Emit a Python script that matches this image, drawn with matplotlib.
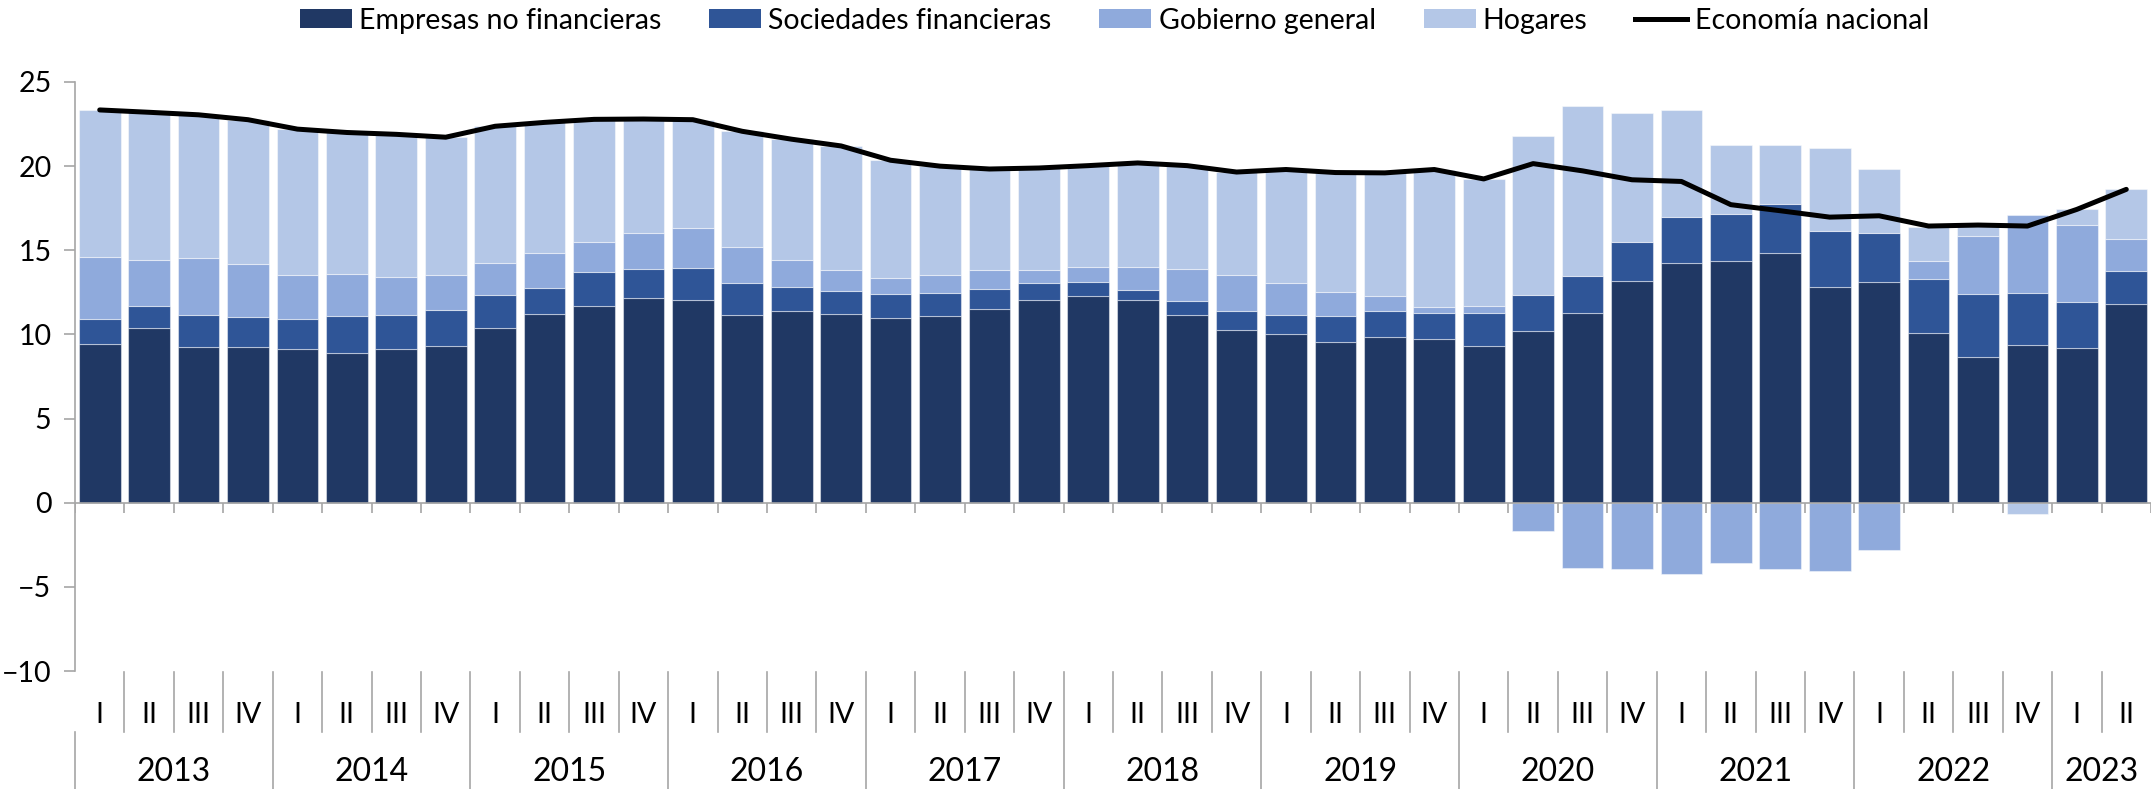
import numpy as np
import matplotlib.pyplot as plt
from matplotlib.patches import Patch
from matplotlib.lines import Line2D
from matplotlib.transforms import blended_transform_factory

plt.rcParams['font.family'] = ['Lato', 'DejaVu Sans']

# quarters 2013 I .. 2023 II
years = ["2013", "2014", "2015", "2016", "2017", "2018", "2019", "2020", "2021", "2022", "2023"]
quarters = ["I", "II", "III", "IV"] * 10 + ["I", "II"]

empresas = [9.44, 10.39, 9.26, 9.26, 9.11, 8.91, 9.16, 9.32, 10.39, 11.22, 11.70, 12.19,
            12.07, 11.16, 11.42, 11.24, 11.00, 11.07, 11.54, 12.07, 12.31, 12.07, 11.16, 10.29,
            10.00, 9.56, 9.86, 9.70, 9.29, 10.18, 11.26, 13.15, 14.23, 14.38, 14.82, 12.83,
            13.09, 10.07, 8.65, 9.35, 9.18, 11.79]
sociedades = [1.47, 1.29, 1.88, 1.77, 1.80, 2.21, 1.98, 2.14, 1.96, 1.55, 2.00, 1.69,
              1.87, 1.88, 1.41, 1.35, 1.39, 1.40, 1.15, 0.97, 0.81, 0.56, 0.82, 1.11,
              1.14, 1.52, 1.54, 1.59, 2.01, 2.18, 2.19, 2.37, 2.74, 2.80, 2.93, 3.31,
              2.94, 3.25, 3.78, 3.14, 2.76, 2.00]
gobierno = [3.68, 2.73, 3.39, 3.16, 2.65, 2.48, 2.26, 2.10, 1.88, 2.08, 1.80, 2.15,
            2.37, 2.14, 1.58, 1.23, 0.97, 1.05, 1.13, 0.78, 0.87, 1.36, 1.92, 2.12,
            1.90, 1.47, 0.87, 0.34, 0.36, -1.70, -3.86, -3.94, -4.24, -3.61, -3.92, -4.07,
            -2.80, 1.06, 3.43, 4.60, 4.58, 1.90]
hogares = [8.75, 8.79, 8.52, 8.57, 8.64, 8.40, 8.49, 8.16, 8.14, 7.75, 7.28, 6.77,
           6.45, 6.89, 7.19, 7.38, 6.99, 6.48, 6.01, 6.07, 6.04, 6.20, 6.13, 6.13,
           6.76, 7.07, 7.33, 8.16, 7.58, 9.44, 10.11, 7.64, 6.38, 4.07, 3.48, 4.94,
           3.80, 2.00, 0.68, -0.68, 0.91, 2.93]
economia = [23.34, 23.20, 23.05, 22.76, 22.20, 22.00, 21.89, 21.72, 22.37, 22.60, 22.78, 22.80,
            22.76, 22.07, 21.60, 21.20, 20.35, 20.00, 19.83, 19.89, 20.03, 20.19, 20.03, 19.65,
            19.80, 19.62, 19.60, 19.80, 19.24, 20.15, 19.72, 19.19, 19.09, 17.71, 17.35, 16.97,
            17.05, 16.44, 16.50, 16.44, 17.43, 18.62]

names = ["Empresas no financieras", "Sociedades financieras", "Gobierno general", "Hogares"]
colors = ["#203864", "#2F5597", "#8FAADC", "#B4C7E7"]
gray = "#A6A6A6"

W, H = 2151, 789
fig = plt.figure(figsize=(W / 100, H / 100), dpi=100)
ax = fig.add_axes([75 / W, 1 - 671 / H, 1 - 75 / W, (671 - 82) / H])

x = np.arange(len(quarters))
pos = np.zeros(len(x))
neg = np.zeros(len(x))
for vals, c in zip([empresas, sociedades, gobierno, hogares], colors):
    v = np.array(vals)
    base = np.where(v >= 0, pos, neg)
    ax.bar(x, v, bottom=base, width=0.845, color=c, edgecolor=(1, 1, 1, 0.45),
           linewidth=0.8, zorder=2)
    pos += np.clip(v, 0, None)
    neg += np.clip(v, None, 0)

ax.plot(x, economia, color="black", lw=3.6, solid_joinstyle="round",
        solid_capstyle="round", zorder=4)

ax.set_xlim(-0.5, len(x) - 0.5)
ax.set_ylim(-10, 25)
ax.set_yticks(range(-10, 26, 5))
ax.set_xticks([])
for s in ["top", "right", "bottom"]:
    ax.spines[s].set_visible(False)
ax.spines["left"].set_color(gray)
ax.spines["left"].set_linewidth(1.2)
ax.tick_params(axis="y", length=8, width=1.2, color=gray, pad=9, labelsize=20.5)

# zero axis with category ticks
ax.axhline(0, color=gray, lw=1.2, zorder=3)
ax.vlines(np.arange(len(x) + 1) - 0.5, -0.6, 0, color=gray, lw=1.2, zorder=3)

# category labels below the plot
tr = blended_transform_factory(ax.transData, fig.transFigure)
y_top = 1 - 672 / H
y_q = 1 - 732 / H
for i, q in enumerate(quarters):
    ax.text(i, 1 - 715 / H, q, transform=tr, ha="center", va="center", fontsize=20.5)
for b in range(1, len(x)):
    if b % 4 != 0:
        ax.plot([b - 0.5, b - 0.5], [y_top, y_q], transform=tr, color=gray,
                lw=1.2, clip_on=False)
for k, yr in enumerate(years):
    start = 4 * k
    end = min(start + 4, len(x))
    ax.text((start + end - 1) / 2, 1 - 772 / H, yr, transform=tr, ha="center",
            va="center", fontsize=23)
    ytop = y_q if k == 0 else y_top
    ax.plot([start - 0.5, start - 0.5], [ytop, 0], transform=tr, color=gray,
            lw=1.2, clip_on=False)

handles = [Patch(facecolor=c, edgecolor="none") for c in colors]
handles.append(Line2D([0], [0], color="black", lw=3.6))
fig.legend(handles, names + ["Economía nacional"], loc="center", ncol=5,
           bbox_to_anchor=(0.518, 0.974), frameon=False, fontsize=20.5,
           handlelength=1.83, handleheight=0.63, handletextpad=0.25,
           columnspacing=1.68, borderpad=0)

fig.savefig("out.png", dpi=100)
